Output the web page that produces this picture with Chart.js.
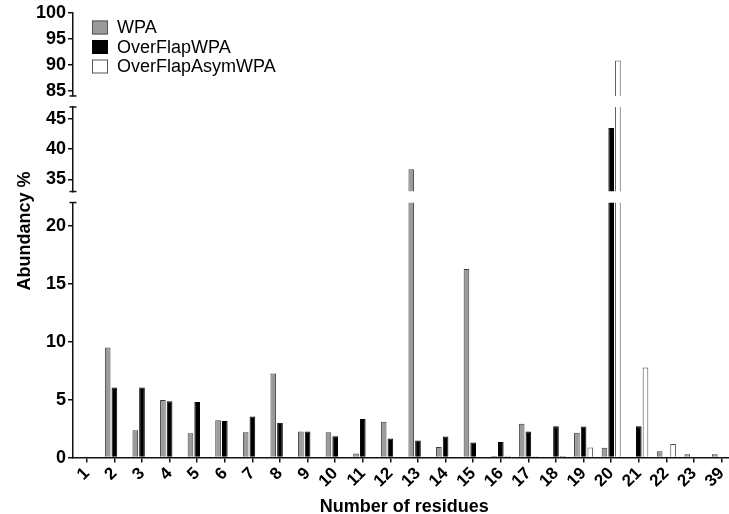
<!DOCTYPE html>
<html>
<head>
<meta charset="utf-8">
<script src="https://cdn.jsdelivr.net/npm/chart.js@4.4.1/dist/chart.umd.min.js"></script>
<style>
  html, body { margin: 0; padding: 0; background: #fff; overflow: hidden; }
  #wrap { position: relative; width: 737px; height: 514px; }
</style>
</head>
<body>
<div id="wrap"><canvas id="c"></canvas></div>
<script>
// ---- data ----
const categories = ['1','2','3','4','5','6','7','8','9','10','11','12','13','14','15','16','17','18','19','20','21','22','23','39'];
const wpa        = [0, 9.5, 2.37, 4.97, 2.1, 3.23, 2.19, 7.25, 2.25, 2.19, 0.35, 3.09, 36.7, 0.92, 16.26, 0.14, 2.91, 0, 2.14, 0.84, 0, 0.55, 0.29, 0.3];
const overFlap   = [0, 6.05, 6.05, 4.85, 4.8, 3.15, 3.55, 3.0, 2.25, 1.85, 3.32, 1.65, 1.47, 1.82, 1.3, 1.35, 2.25, 2.71, 2.69, 43.5, 2.71, 0, 0, 0];
const overAsym   = [0, 0, 0, 0, 0, 0, 0, 0, 0, 0, 0, 0, 0, 0, 0, 0.15, 0.12, 0.14, 0.87, 90.8, 7.77, 1.18, 0, 0];
const seriesNames = ['WPA', 'OverFlapWPA', 'OverFlapAsymWPA'];
// broken y-axis segments: [min, max, tick step]
const segBottom = [0, 22, 5];
const segMiddle = [33, 47, 5];
const segTop    = [84, 100, 5];

const FONT = "'Liberation Sans', Arial, Helvetica, sans-serif";
Chart.defaults.font.family = FONT;
Chart.defaults.color = '#000';

const styles = [
  { backgroundColor: '#9b9b9b', borderColor: '#3c3c3c' },
  { backgroundColor: '#000000', borderColor: '#000000' },
  { backgroundColor: '#ffffff', borderColor: '#4a4a4a' }
];
const seriesData = [wpa, overFlap, overAsym];
const segAxes = ['yBottom', 'yMiddle', 'yTop'];

const datasets = [];
segAxes.forEach(axisId => {
  seriesData.forEach((d, i) => {
    datasets.push({
      label: seriesNames[i],
      data: d,
      yAxisID: axisId,
      stack: 's' + i,
      backgroundColor: styles[i].backgroundColor,
      borderColor: styles[i].borderColor,
      borderWidth: 1,
      clip: 0,
      categoryPercentage: 0.73,
      barPercentage: 0.84
    });
  });
});

const tickFont = { size: 18, weight: 'bold', family: FONT };
function yAxis(seg, weight, stackWeight) {
  return {
    type: 'linear', position: 'left', stack: 'ys', stackWeight: stackWeight, weight: weight,
    stacked: false,
    min: seg[0], max: seg[1],
    ticks: { stepSize: seg[2], includeBounds: false, autoSkip: false, font: tickFont, color: '#000', padding: 2 },
    grid: { drawOnChartArea: false, drawTicks: true, tickLength: 5, color: '#111', lineWidth: 1.5 },
    border: { display: true, color: '#111', width: 1.5 },
    afterFit(scale) { scale.width = 36; }
  };
}
function gapAxis(weight, stackWeight) {
  return { type: 'linear', position: 'left', stack: 'ys', stackWeight: stackWeight, weight: weight,
    display: false, min: 0, max: 1 };
}

// clip each dataset to its own axis segment
const segmentClip = {
  id: 'segmentClip',
  beforeDatasetDraw(chart, args) {
    const ys = chart.scales[args.meta.yAxisID];
    const ctx = chart.ctx;
    ctx.save();
    ctx.beginPath();
    ctx.rect(chart.chartArea.left, ys.top, chart.chartArea.right - chart.chartArea.left, ys.bottom - ys.top);
    ctx.clip();
  },
  afterDatasetDraw(chart) { chart.ctx.restore(); }
};

const decorations = {
  id: 'decorations',
  afterDraw(chart) {
    const ctx = chart.ctx;
    ctx.save();
    // end caps on axis segments
    ctx.strokeStyle = '#111';
    ctx.lineWidth = 1.5;
    const ax = chart.scales.yBottom.right;
    [['yTop','bottom'], ['yMiddle','top'], ['yMiddle','bottom'], ['yBottom','top']].forEach(([id, end]) => {
      const s = chart.scales[id];
      const y = end === 'top' ? s.top : s.bottom;
      ctx.beginPath();
      ctx.moveTo(ax - 3.5, y);
      ctx.lineTo(ax + 3.5, y);
      ctx.stroke();
    });
    // y-axis title
    ctx.fillStyle = '#000';
    ctx.font = "bold 18px " + FONT;
    ctx.textAlign = 'center';
    ctx.textBaseline = 'middle';
    ctx.translate(25, 231);
    ctx.rotate(-Math.PI / 2);
    ctx.fillText('Abundancy %', 0, 0);
    ctx.restore();

    // legend
    ctx.save();
    const rows = [27.5, 47, 66.5];
    ctx.font = "18px " + FONT;
    ctx.textAlign = 'left';
    ctx.textBaseline = 'middle';
    seriesNames.forEach((name, i) => {
      const y = rows[i];
      ctx.fillStyle = styles[i].backgroundColor;
      ctx.fillRect(92, y - 7, 16, 14);
      ctx.strokeStyle = i === 1 ? '#000' : '#555';
      ctx.lineWidth = 1;
      ctx.strokeRect(92.5, y - 6.5, 15, 13);
      ctx.fillStyle = '#000';
      ctx.fillText(name, 117, y + 1);
    });
    ctx.restore();
  }
};

new Chart(document.getElementById('c'), {
  type: 'bar',
  data: { labels: categories, datasets: datasets },
  options: {
    responsive: true,
    maintainAspectRatio: false,
    animation: false,
    layout: { padding: { left: 37, top: 12, right: 0, bottom: -4 } },
    plugins: { legend: { display: false }, tooltip: { enabled: false } },
    scales: {
      x: {
        stacked: true,
        ticks: { font: { size: 17, weight: 'bold', family: FONT }, color: '#000', minRotation: 45, maxRotation: 45, autoSkip: false, padding: 1 },
        grid: { offset: false, drawOnChartArea: false, drawTicks: true, tickLength: 5, color: '#111', lineWidth: 1.5 },
        border: { display: true, color: '#111', width: 1.5 },
        title: { display: true, text: 'Number of residues', font: { size: 18, weight: 'bold', family: FONT }, color: '#000', padding: { top: 4, bottom: 0 } }
      },
      yBottom: yAxis(segBottom, 1, 254.6),
      gap1: gapAxis(2, 11),
      yMiddle: yAxis(segMiddle, 3, 84.4),
      gap2: gapAxis(4, 11),
      yTop: yAxis(segTop, 5, 83)
    }
  },
  plugins: [segmentClip, decorations]
});
</script>
</body>
</html>
